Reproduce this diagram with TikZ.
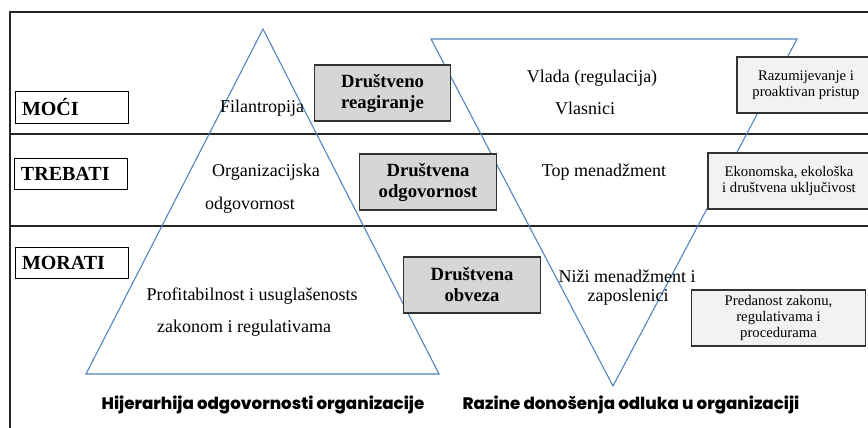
\documentclass[tikz,border=0pt]{standalone}
\usepackage{fontspec}
\setmainfont{Liberation Serif}
\newfontfamily\captionfont{Poppins}[BoldFont={Poppins ExtraBold}]

\definecolor{triblue}{HTML}{4F81BD}
\definecolor{boxgray}{HTML}{D6D6D6}
\definecolor{boxlight}{HTML}{F2F2F2}

\tikzset{
  levelbox/.style={draw=black, line width=0.8pt, text width=75pt, inner xsep=5pt, minimum height=23.5pt, align=left, font=\fontsize{15}{16}\selectfont\bfseries},
  graybox/.style={draw=black!80, fill=boxgray, line width=0.8pt, text width=96pt, minimum height=42pt, align=center, font=\fontsize{14}{15.75}\selectfont\bfseries},
  lightbox/.style={draw=black!80, fill=boxlight, line width=0.8pt, minimum height=42pt, align=center, font=\fontsize{11}{12}\selectfont},
  bodytext/.style={inner sep=0.75pt, font=\fontsize{13.5}{15}\selectfont},
  captiontext/.style={inner sep=0.75pt, font=\fontsize{12.5}{14}\selectfont\captionfont\bfseries},
  tri/.style={draw=triblue, line width=0.8pt}
}

\begin{document}
\begin{tikzpicture}[x=0.75pt,y=0.75pt,yscale=-1,xscale=1]
        \useasboundingbox (0,0) rectangle (868,428);

        %Frame and level lines
        \draw [line width=1.3pt, black!85] (10,440) -- (10,12) -- (880,12) ;
        \draw [line width=0.8pt, black!85] (10,134) -- (880,134) ;
        \draw [line width=0.8pt, black!85] (10,226) -- (880,226) ;

        %Triangles
        \coordinate (hierTop) at (263,29);
        \coordinate (hierLeft) at (86,374);
        \coordinate (hierRight) at (439,374);
        \coordinate (decLeft) at (431,39);
        \coordinate (decRight) at (797,39);
        \coordinate (decBottom) at (613,386);
        \draw [tri] (hierTop) -- (hierRight) -- (hierLeft) -- cycle ;
        \draw [tri] (decLeft) -- (decRight) -- (decBottom) -- cycle ;

        % Level Nodes
        \node [levelbox] (moci) at (72,107.5) {MOĆI};
        \node [levelbox] (trebati) at (71,174) {TREBATI};
        \node [levelbox] (morati) at (72,263) {MORATI};

        % Gray Nodes
        \node [graybox] (reagiranje) at (382.5,93) {Društveno\\reagiranje};
        \node [graybox] (odgovornost) at (428,182) {Društvena\\odgovornost};
        \node [graybox] (obveza) at (472,285) {Društvena\\obveza};

        % Light Nodes
        \node [lightbox, minimum width=103.5pt] (razumijevanje) at (806,85) {Razumijevanje i\\proaktivan pristup};
        \node [lightbox, minimum width=121.5pt] (ukljucivost) at (789,181) {Ekonomska, ekološka\\i društvena uključivost};
        \node [lightbox, minimum width=131pt] (predanost) at (778.5,318) {Predanost zakonu,\\regulativama i\\procedurama};

        % Text Node
        \node [bodytext] (filantropija) at (262,108) {Filantropija};
        \node [bodytext] (organizacijska) at (266,172) {Organizacijska};
        \node [bodytext] (orgodgovornost) at (250,205) {odgovornost};
        \node [bodytext] (profitabilnost) at (252,296) {Profitabilnost i usuglašenosts};
        \node [bodytext] (zakonom) at (244,328) {zakonom i regulativama};
        % Text Node
        \node [bodytext] (vlada) at (592,78) {Vlada (regulacija)};
        \node [bodytext] (vlasnici) at (585,108) {Vlasnici};
        \node [bodytext] (topmen) at (604,172) {Top menadžment};
        \node [bodytext] (nizimen) at (627,276) {Niži menadžment i};
        \node [bodytext] (zaposlenici) at (628,297) {zaposlenici};
        % Caption Node
        \node [captiontext] (hijerarhija) at (263,405) {Hijerarhija odgovornosti organizacije};
        \node [captiontext] (razine) at (631,405) {Razine donošenja odluka u organizaciji};

    \end{tikzpicture}
\end{document}
